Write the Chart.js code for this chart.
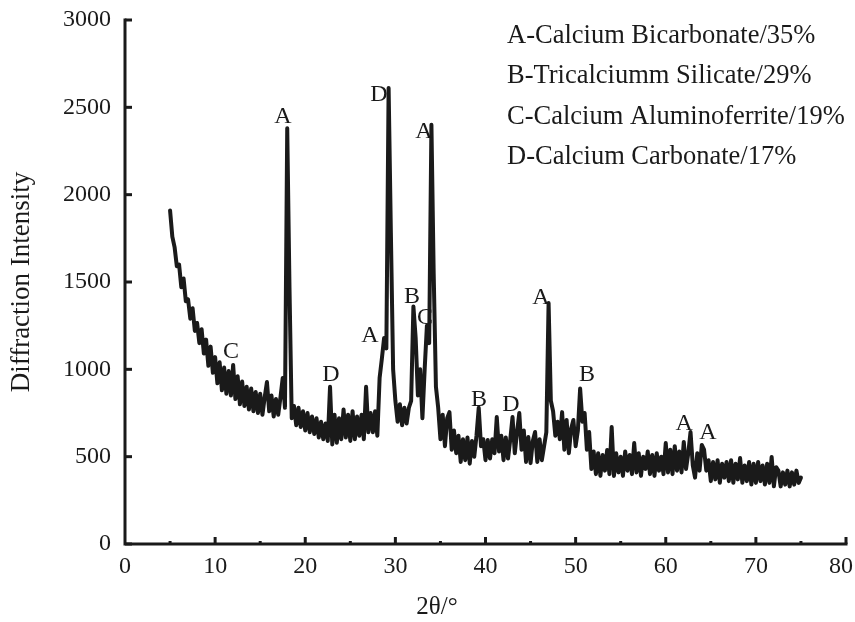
<!DOCTYPE html>
<html><head><meta charset="utf-8">
<script src="https://cdn.jsdelivr.net/npm/chart.js@4.4.0/dist/chart.umd.min.js"></script>
<style>html,body{margin:0;padding:0;background:#fff;}canvas{display:block;}</style>
</head><body>
<canvas id="c" width="855" height="622"></canvas>
<script>
// 2θ (degrees)
const twoTheta = [
5,5.25,5.5,5.75,6,6.25,6.5,6.75,7,7.25,7.5,7.75,8,8.25,8.5,8.75,9,9.25,9.5,9.75,
10,10.25,10.5,10.75,11,11.25,11.5,11.75,12,12.25,12.5,12.75,13,13.25,13.5,13.75,14,14.25,14.5,14.75,
15,15.25,15.5,15.75,16,16.25,16.5,16.75,17,17.25,17.5,17.75,18,18.25,18.5,18.75,19,19.25,19.5,19.75,
20,20.25,20.5,20.75,21,21.25,21.5,21.75,22,22.25,22.5,22.75,23,23.25,23.5,23.75,24,24.25,24.5,24.75,
25,25.25,25.5,25.75,26,26.25,26.5,26.75,27,27.25,27.5,27.75,28,28.25,28.5,28.75,29,29.25,29.5,29.75,
30,30.25,30.5,30.75,31,31.25,31.5,31.75,32,32.25,32.5,32.75,33,33.25,33.5,33.75,34,34.25,34.5,34.75,
35,35.25,35.5,35.75,36,36.25,36.5,36.75,37,37.25,37.5,37.75,38,38.25,38.5,38.75,39,39.25,39.5,39.75,
40,40.25,40.5,40.75,41,41.25,41.5,41.75,42,42.25,42.5,42.75,43,43.25,43.5,43.75,44,44.25,44.5,44.75,
45,45.25,45.5,45.75,46,46.25,46.5,46.75,47,47.25,47.5,47.75,48,48.25,48.5,48.75,49,49.25,49.5,49.75,
50,50.25,50.5,50.75,51,51.25,51.5,51.75,52,52.25,52.5,52.75,53,53.25,53.5,53.75,54,54.25,54.5,54.75,
55,55.25,55.5,55.75,56,56.25,56.5,56.75,57,57.25,57.5,57.75,58,58.25,58.5,58.75,59,59.25,59.5,59.75,
60,60.25,60.5,60.75,61,61.25,61.5,61.75,62,62.25,62.5,62.75,63,63.25,63.5,63.75,64,64.25,64.5,64.75,
65,65.25,65.5,65.75,66,66.25,66.5,66.75,67,67.25,67.5,67.75,68,68.25,68.5,68.75,69,69.25,69.5,69.75,
70,70.25,70.5,70.75,71,71.25,71.5,71.75,72,72.25,72.5,72.75,73,73.25,73.5,73.75,74,74.25,74.5,74.75,
75
];
// Diffraction intensity
const intensity = [
1910,1760,1700,1590,1600,1470,1520,1390,1400,1290,1350,1220,1265,1150,1230,1090,1170,1020,1130,980,
1070,920,1040,880,1010,860,990,850,1025,830,960,800,930,790,900,770,890,760,870,750,
860,740,840,927,760,850,730,830,740,840,950,780,2380,1470,720,790,680,780,670,760,
650,750,640,730,630,720,610,700,600,690,590,900,570,740,580,720,600,770,610,740,
590,760,600,730,620,740,600,900,640,750,640,760,620,950,1060,1180,1120,2610,1780,1000,
820,700,800,680,780,690,780,820,1360,1180,850,1000,720,1000,1250,1150,2400,1550,900,780,
600,740,560,720,755,540,650,520,620,470,600,480,610,460,590,500,620,780,560,600,
480,595,490,600,520,727,530,620,480,610,490,600,727,520,640,750,540,650,470,612,
463,590,641,470,600,480,560,640,1380,820,760,620,700,600,755,540,710,520,660,710,
560,650,890,700,750,540,641,430,530,400,520,390,510,420,538,400,670,390,520,410,
500,390,530,420,510,400,578,410,520,390,500,430,530,400,510,390,520,420,500,400,
578,410,540,400,560,420,530,410,584,430,520,641,450,380,520,420,567,540,420,480,
360,470,370,480,350,460,380,470,360,480,350,460,370,492,350,450,360,470,340,460,
350,470,360,450,340,460,350,498,330,440,420,330,410,340,420,330,410,340,420,350,
380
];
const xMajorTicks = [0,10,20,30,40,50,60,70,80];
const xMinorTicks = [5,15,25,35,45,55,65,75];
const yMajorTicks = [0,500,1000,1500,2000,2500,3000];
const legendLines = [
  "A-Calcium Bicarbonate/35%",
  "B-Tricalciumm Silicate/29%",
  "C-Calcium Aluminoferrite/19%",
  "D-Calcium Carbonate/17%"
];
const peakLetters   = ["C","A","D","A","D","B","C","A","B","D","A","B","A","A"];
const peakTheta     = [11.76,17.53,22.86,27.18,28.18,31.85,33.29,33.18,39.28,42.83,46.16,51.26,62.03,64.69];
const peakIntensity = [1099,2445,968,1191,2571,1414,1294,2359,824,796,1408,968,687,635];
const xTitle = "2θ/°";
const yTitle = "Diffraction Intensity";

const FONT = '"Liberation Serif","Times New Roman",serif';
const INK = '#1a1a1a';

const decor = {
  id: 'decor',
  afterDraw(chart) {
    const {ctx, chartArea: a, scales: {x, y}, width: W} = chart;
    ctx.save();
    ctx.strokeStyle = INK; ctx.lineWidth = 3; ctx.lineCap = 'butt';
    const top = y.getPixelForValue(3000);
    ctx.beginPath();
    ctx.moveTo(x.getPixelForValue(0), top - 1.5);
    ctx.lineTo(x.getPixelForValue(0), a.bottom);
    ctx.lineTo(x.getPixelForValue(80) + 1.5, a.bottom);
    ctx.stroke();
    yMajorTicks.forEach(v => {
      const py = y.getPixelForValue(v);
      ctx.beginPath(); ctx.moveTo(a.left, py); ctx.lineTo(a.left + 7, py); ctx.stroke();
    });
    xMajorTicks.forEach(v => {
      if (v === 0) return;
      const px = x.getPixelForValue(v);
      ctx.beginPath(); ctx.moveTo(px, a.bottom); ctx.lineTo(px, a.bottom - 7); ctx.stroke();
    });
    xMinorTicks.forEach(v => {
      const px = x.getPixelForValue(v);
      ctx.beginPath(); ctx.moveTo(px, a.bottom); ctx.lineTo(px, a.bottom - 3); ctx.stroke();
    });
    ctx.fillStyle = INK;
    // x tick labels (kept inside the canvas)
    ctx.font = `24px ${FONT}`;
    ctx.textAlign = 'center'; ctx.textBaseline = 'middle';
    xMajorTicks.forEach(v => {
      const s = String(v);
      const half = ctx.measureText(s).width / 2;
      const px = Math.min(x.getPixelForValue(v), W - half - 2);
      ctx.fillText(s, px, a.bottom + 23);
    });
    // peak letters
    peakLetters.forEach((L, i) => {
      ctx.fillText(L, x.getPixelForValue(peakTheta[i]), y.getPixelForValue(peakIntensity[i]));
    });
    // phase list
    ctx.font = `26.5px ${FONT}`;
    ctx.textAlign = 'left'; ctx.textBaseline = 'alphabetic';
    legendLines.forEach((t, i) => ctx.fillText(t, 507, 43 + i * 40.3));
    // axis titles
    ctx.font = `25px ${FONT}`;
    ctx.textAlign = 'center'; ctx.textBaseline = 'middle';
    ctx.fillText(xTitle, 437, 607);
    ctx.font = `27px ${FONT}`;
    ctx.save();
    ctx.translate(22, (a.top + a.bottom) / 2);
    ctx.rotate(-Math.PI / 2);
    ctx.fillText(yTitle, 0, 0);
    ctx.restore();
    ctx.restore();
  }
};

new Chart(document.getElementById('c'), {
  type: 'line',
  data: {
    datasets: [{
      data: twoTheta.map((t, i) => ({x: t, y: intensity[i]})),
      borderColor: INK,
      borderWidth: 4,
      borderJoinStyle: 'round',
      borderCapStyle: 'round',
      pointRadius: 0,
      tension: 0,
      fill: false
    }]
  },
  options: {
    responsive: false,
    animation: false,
    devicePixelRatio: 1,
    layout: {padding: {top: 20, right: 9, bottom: 0, left: 0}},
    plugins: {legend: {display: false}, tooltip: {enabled: false}},
    scales: {
      x: {
        type: 'linear', min: 0, max: 80,
        grid: {display: false, drawTicks: false},
        border: {display: false},
        ticks: {display: false, stepSize: 10},
        afterFit: s => { s.height = 78; s.paddingLeft = 0; s.paddingRight = 0; }
      },
      y: {
        min: 0, max: 3000,
        grid: {display: false, drawTicks: false},
        border: {display: false},
        ticks: {stepSize: 500, color: INK, padding: 14, font: {family: FONT, size: 24},
                callback: v => String(v)},
        afterFit: s => { s.width = 125; s.paddingTop = 0; s.paddingBottom = 0; }
      }
    }
  },
  plugins: [decor]
});
</script>
</body></html>
